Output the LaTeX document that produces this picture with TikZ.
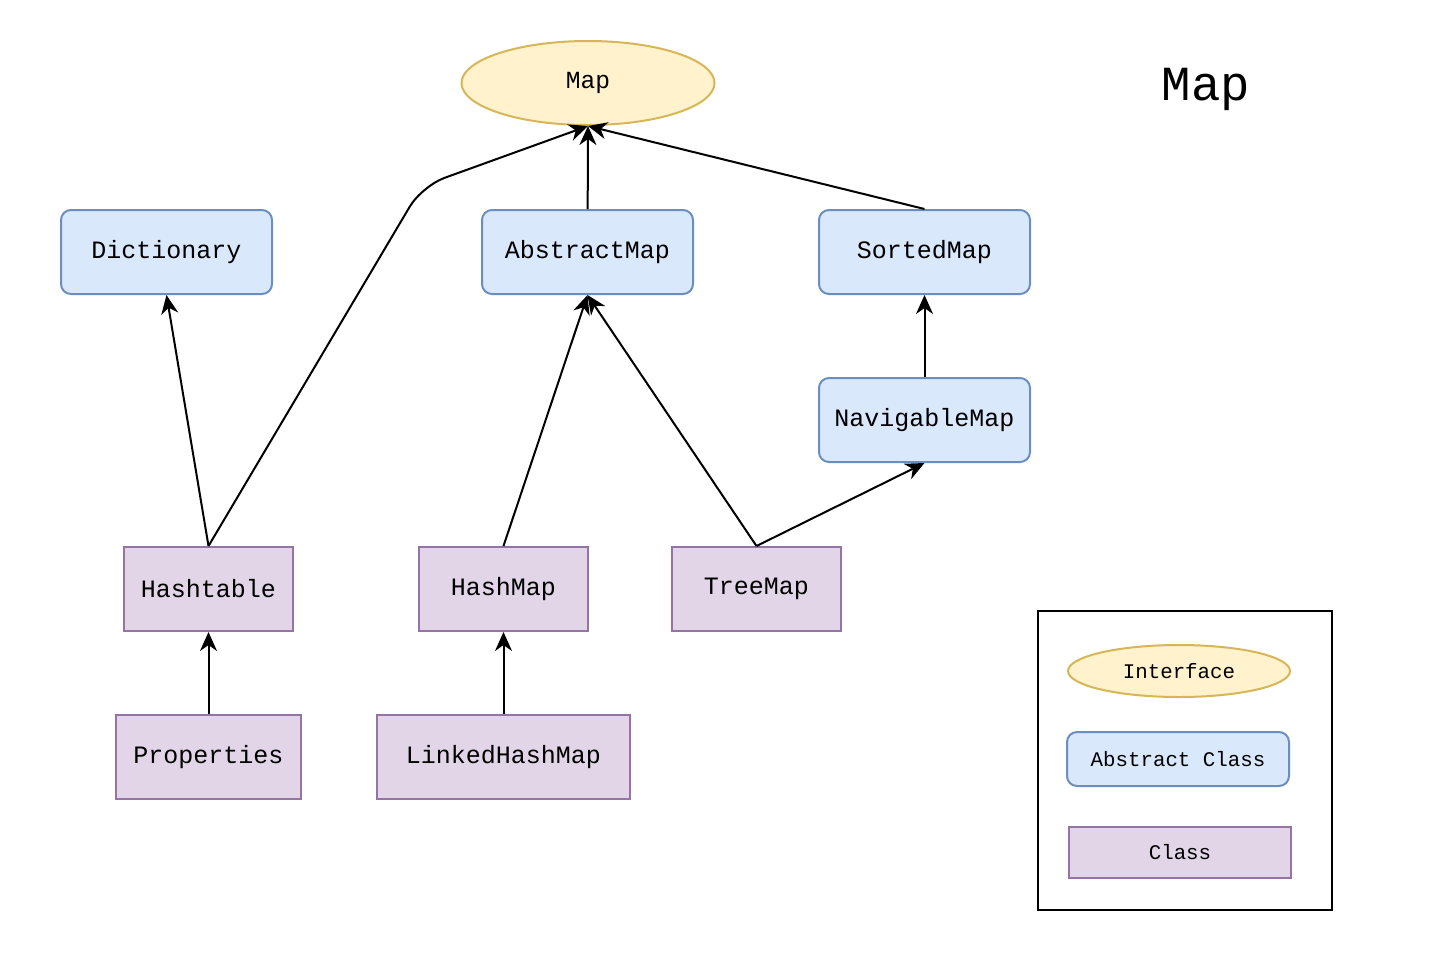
\documentclass[tikz,border=0pt]{standalone}
\usepackage{fontspec}
\setmonofont{Liberation Mono}
\usetikzlibrary{
    arrows.meta,
    shapes.geometric,
    positioning
}
\definecolor{ifill}{HTML}{FFF2CC}
\definecolor{iline}{HTML}{D6B656}
\definecolor{afill}{HTML}{DAE8FC}
\definecolor{aline}{HTML}{6C8EBF}
\definecolor{cfill}{HTML}{E1D5E7}
\definecolor{cline}{HTML}{9673A6}
\tikzset{
    iface/.style={draw=iline, fill=ifill, ellipse, line width=1pt, inner sep=0pt, font=\ttfamily\fontsize{12.3}{14}\selectfont},
    abstr/.style={draw=aline, fill=afill, rounded corners=5pt, line width=1pt, inner sep=0pt, minimum width=105.5pt, minimum height=42pt, font=\ttfamily\fontsize{12.5}{14}\selectfont},
    klass/.style={draw=cline, fill=cfill, line width=1pt, inner sep=0pt, minimum height=42pt, font=\ttfamily\fontsize{12.5}{14}\selectfont},
    inherit/.style={-{Stealth[length=9.5pt, width=8.5pt, inset=3pt]}, line width=1pt}
}

\begin{document}
\begin{tikzpicture}[x=0.5pt, y=-0.5pt]
                        \useasboundingbox (0, 0) rectangle (1430, 966);
                        \node[iface, minimum width=126.5pt, minimum height=42pt] (map) at (588, 83) {Map};
                        \node[abstr] (dict) at (166.5, 252) {Dictionary};
                        \node[abstr] (absmap) at (587.5, 252) {AbstractMap};
                        \node[abstr] (sorted) at (924.5, 252) {SortedMap};
                        \node[abstr] (navig) at (924.5, 420) {NavigableMap};
                        \node[klass, minimum width=84.5pt] (htable) at (208.5, 589) {Hashtable};
                        \node[klass, minimum width=84.5pt] (hmap) at (503.5, 589) {HashMap};
                        \node[klass, minimum width=84.5pt] (tmap) at (756.5, 589) {TreeMap};
                        \node[klass, minimum width=92.5pt] (props) at (208.5, 757) {Properties};
                        \node[klass, minimum width=126.5pt] (lhmap) at (503.5, 757) {LinkedHashMap};
                        \node[font=\ttfamily\fontsize{24.5}{28}\selectfont] (title) at (1206, 89) {Map};

                        % legend
                        \node[draw, line width=1pt, minimum width=147pt, minimum height=149.5pt, inner sep=0pt] (legend) at (1185, 760.5) {};
                        \node[iface, minimum width=111pt, minimum height=26pt, font=\ttfamily\fontsize{10.4}{12}\selectfont] (lgiface) at (1179, 671) {Interface};
                        \node[abstr, minimum width=111pt, minimum height=27pt, font=\ttfamily\fontsize{10.4}{12}\selectfont] (lgabstr) at (1178, 759) {Abstract Class};
                        \node[klass, minimum width=111pt, minimum height=25.5pt, font=\ttfamily\fontsize{10.4}{12}\selectfont] (lgclass) at (1180, 852.5) {Class};

                        \coordinate (bend) at (422, 186);

                        \draw[inherit] (absmap) -- (map.south);
                        \draw[inherit] (sorted.north) -- (map.south);
                        \draw[inherit, rounded corners=12pt] (htable.north) -- (bend) -- (map.south);
                        \draw[inherit] (htable.north) -- (dict.south);
                        \draw[inherit] (navig) -- (sorted);
                        \draw[inherit] (hmap.north) -- (absmap.south);
                        \draw[inherit] (tmap.north) -- (absmap.south);
                        \draw[inherit] (tmap.north) -- (navig.south);
                        \draw[inherit] (props) -- (htable);
                        \draw[inherit] (lhmap) -- (hmap);
                    \end{tikzpicture}
\end{document}
